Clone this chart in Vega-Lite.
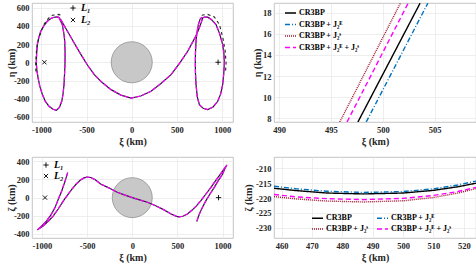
{
  "$schema": "https://vega.github.io/schema/vega-lite/v6.json",
  "autosize": {"type": "pad"},
  "padding": {"left": 5, "top": 2, "right": 0, "bottom": 0},
  "background": "white",
  "bounds": "flush",
  "columns": 2,
  "spacing": {"row": 35, "column": 41},
  "config": {
    "font": "Liberation Serif",
    "view": {"stroke": "#b5b5b5", "strokeWidth": 0.8},
    "axis": {
      "labelFont": "Liberation Serif", "labelFontWeight": "bold", "labelFontSize": 8.5, "labelColor": "#262626",
      "titleFont": "Liberation Serif", "titleFontWeight": "bold", "titleFontSize": 10, "titleColor": "#262626",
      "grid": true, "gridColor": "#e6e6e6", "gridWidth": 0.7, "domain": false, "ticks": false,
      "labelPadding": 3, "titlePadding": 3, "labelFlush": false, "labelOverlap": false, "labelBound": false,
      "labelExpr": "'' + datum.value"
    },
    "legend": {
      "labelFont": "Liberation Serif", "labelFontWeight": "bold", "labelFontSize": 8, "labelColor": "#000000",
      "padding": 0, "rowPadding": 1, "labelOffset": 3
    }
  },
  "resolve": {
    "scale": {"x": "independent", "y": "independent", "color": "independent", "strokeDash": "independent", "shape": "independent"},
    "legend": {"color": "independent", "strokeDash": "independent", "shape": "independent"}
  },
  "datasets": {
    "moon": [{"x": 0, "y": 0}],
    "lpts": [{"name": "L₁", "x": 955, "y": 0}, {"name": "L₂", "x": -966, "y": 0}],
    "tl": [
      {"o": 1, "x": -805, "y": 492}, {"o": 2, "x": -768, "y": 414}, {"o": 3, "x": -748, "y": 300},
      {"o": 4, "x": -741, "y": 230}, {"o": 5, "x": -737, "y": 100}, {"o": 6, "x": -738, "y": -8},
      {"o": 7, "x": -743, "y": -130}, {"o": 8, "x": -749, "y": -245}, {"o": 9, "x": -760, "y": -350},
      {"o": 10, "x": -774, "y": -428}, {"o": 11, "x": -800, "y": -495}, {"o": 12, "x": -834, "y": -527},
      {"o": 13, "x": -870, "y": -515}, {"o": 14, "x": -915, "y": -483}, {"o": 15, "x": -955, "y": -430},
      {"o": 16, "x": -988, "y": -354}, {"o": 17, "x": -1015, "y": -270}, {"o": 18, "x": -1036, "y": -172},
      {"o": 19, "x": -1050, "y": -80}, {"o": 20, "x": -1055, "y": -8}, {"o": 21, "x": -1052, "y": 90},
      {"o": 22, "x": -1044, "y": 194}, {"o": 23, "x": -1028, "y": 270}, {"o": 24, "x": -1006, "y": 340},
      {"o": 25, "x": -972, "y": 400}, {"o": 26, "x": -933, "y": 450}, {"o": 27, "x": -895, "y": 480},
      {"o": 28, "x": -859, "y": 494}, {"o": 29, "x": -830, "y": 498}, {"o": 30, "x": -808, "y": 493},
      {"o": 31, "x": -780, "y": 460}, {"o": 32, "x": -740, "y": 390}, {"o": 33, "x": -690, "y": 304},
      {"o": 34, "x": -630, "y": 200}, {"o": 35, "x": -561, "y": 84}, {"o": 36, "x": -490, "y": -30},
      {"o": 37, "x": -414, "y": -135}, {"o": 38, "x": -330, "y": -220}, {"o": 39, "x": -229, "y": -300},
      {"o": 40, "x": -120, "y": -360}, {"o": 41, "x": -8, "y": -392}, {"o": 42, "x": 100, "y": -370},
      {"o": 43, "x": 213, "y": -318}, {"o": 44, "x": 320, "y": -235}, {"o": 45, "x": 435, "y": -135},
      {"o": 46, "x": 530, "y": -10}, {"o": 47, "x": 619, "y": 121}, {"o": 48, "x": 700, "y": 270},
      {"o": 49, "x": 745, "y": 370}, {"o": 50, "x": 770, "y": 440}, {"o": 51, "x": 785, "y": 486},
      {"o": 52, "x": 803, "y": 496}, {"o": 53, "x": 840, "y": 495}, {"o": 54, "x": 880, "y": 470},
      {"o": 55, "x": 932, "y": 414}, {"o": 56, "x": 970, "y": 320}, {"o": 57, "x": 1006, "y": 194},
      {"o": 58, "x": 1020, "y": 90}, {"o": 59, "x": 1024, "y": -8}, {"o": 60, "x": 1018, "y": -120},
      {"o": 61, "x": 1006, "y": -245}, {"o": 62, "x": 983, "y": -350}, {"o": 63, "x": 951, "y": -428},
      {"o": 64, "x": 900, "y": -490}, {"o": 65, "x": 840, "y": -519}, {"o": 66, "x": 790, "y": -505},
      {"o": 67, "x": 748, "y": -464}, {"o": 68, "x": 725, "y": -380}, {"o": 69, "x": 711, "y": -245},
      {"o": 70, "x": 705, "y": -120}, {"o": 71, "x": 703, "y": -8}, {"o": 72, "x": 705, "y": 110},
      {"o": 73, "x": 711, "y": 230}, {"o": 74, "x": 722, "y": 330}, {"o": 75, "x": 737, "y": 414},
      {"o": 76, "x": 755, "y": 470}, {"o": 77, "x": 775, "y": 495}
    ],
    "tlDash": [
      {"seg": "a", "o": 1, "x": -1060, "y": -100}, {"seg": "a", "o": 2, "x": -1062, "y": -8},
      {"seg": "a", "o": 3, "x": -1052, "y": 150}, {"seg": "a", "o": 4, "x": -1028, "y": 267},
      {"seg": "a", "o": 5, "x": -972, "y": 414}, {"seg": "a", "o": 6, "x": -922, "y": 482},
      {"seg": "a", "o": 7, "x": -878, "y": 516}, {"seg": "a", "o": 8, "x": -804, "y": 525},
      {"seg": "a", "o": 9, "x": -768, "y": 504},
      {"seg": "b", "o": 1, "x": 774, "y": 516}, {"seg": "b", "o": 2, "x": 840, "y": 525},
      {"seg": "b", "o": 3, "x": 914, "y": 496}, {"seg": "b", "o": 4, "x": 969, "y": 416},
      {"seg": "b", "o": 5, "x": 1008, "y": 267}, {"seg": "b", "o": 6, "x": 1034, "y": 121},
      {"seg": "b", "o": 7, "x": 1043, "y": -8}, {"seg": "b", "o": 8, "x": 1037, "y": -117}
    ],
    "bl": [
      {"o": 1, "x": -715, "y": 275}, {"o": 2, "x": -745, "y": 180}, {"o": 3, "x": -781, "y": 74},
      {"o": 4, "x": -820, "y": -20}, {"o": 5, "x": -855, "y": -110}, {"o": 6, "x": -900, "y": -190},
      {"o": 7, "x": -948, "y": -256}, {"o": 8, "x": -1000, "y": -310}, {"o": 9, "x": -1051, "y": -355},
      {"o": 10, "x": -1020, "y": -335}, {"o": 11, "x": -985, "y": -311}, {"o": 12, "x": -930, "y": -260},
      {"o": 13, "x": -874, "y": -201}, {"o": 14, "x": -820, "y": -125}, {"o": 15, "x": -763, "y": -36},
      {"o": 16, "x": -715, "y": 30}, {"o": 17, "x": -670, "y": 92}, {"o": 18, "x": -620, "y": 150},
      {"o": 19, "x": -577, "y": 191}, {"o": 20, "x": -540, "y": 215}, {"o": 21, "x": -504, "y": 226},
      {"o": 22, "x": -460, "y": 222}, {"o": 23, "x": -410, "y": 198}, {"o": 24, "x": -351, "y": 151},
      {"o": 25, "x": -260, "y": 108}, {"o": 26, "x": -167, "y": 59}, {"o": 27, "x": -80, "y": 28},
      {"o": 28, "x": 0, "y": 0}, {"o": 29, "x": 80, "y": -25}, {"o": 30, "x": 167, "y": -51},
      {"o": 31, "x": 260, "y": -90}, {"o": 32, "x": 351, "y": -135}, {"o": 33, "x": 430, "y": -180},
      {"o": 34, "x": 490, "y": -207}, {"o": 35, "x": 517, "y": -212}, {"o": 36, "x": 560, "y": -205},
      {"o": 37, "x": 610, "y": -180}, {"o": 38, "x": 660, "y": -140}, {"o": 39, "x": 710, "y": -90},
      {"o": 40, "x": 758, "y": -36}, {"o": 41, "x": 815, "y": 40}, {"o": 42, "x": 869, "y": 110},
      {"o": 43, "x": 925, "y": 190}, {"o": 44, "x": 980, "y": 264}, {"o": 45, "x": 1015, "y": 315},
      {"o": 46, "x": 1047, "y": 360}, {"o": 47, "x": 1025, "y": 320}, {"o": 48, "x": 999, "y": 257},
      {"o": 49, "x": 950, "y": 185}, {"o": 50, "x": 906, "y": 110}, {"o": 51, "x": 860, "y": 40},
      {"o": 52, "x": 814, "y": -36}, {"o": 53, "x": 780, "y": -100}, {"o": 54, "x": 750, "y": -165},
      {"o": 55, "x": 730, "y": -215}, {"o": 56, "x": 714, "y": -264}
    ],
    "tr": [
      {"s": "CR3BP", "x": 497.6, "y": 7.65}, {"s": "CR3BP", "x": 503.6, "y": 18.9},
      {"s": "CR3BP + J₂ᴱ", "x": 498.4, "y": 7.65}, {"s": "CR3BP + J₂ᴱ", "x": 504.35, "y": 18.9},
      {"s": "CR3BP + J₂ˢ", "x": 495.85, "y": 7.65}, {"s": "CR3BP + J₂ˢ", "x": 501.7, "y": 18.9},
      {"s": "CR3BP + J₂ᴱ + J₂ˢ", "x": 496.55, "y": 7.65}, {"s": "CR3BP + J₂ᴱ + J₂ˢ", "x": 502.45, "y": 18.9}
    ],
    "br": [
      {"s": "CR3BP", "x": 457.5, "y": -216.7}, {"s": "CR3BP", "x": 465, "y": -217.5}, {"s": "CR3BP", "x": 475, "y": -218.3},
      {"s": "CR3BP", "x": 487, "y": -218.6}, {"s": "CR3BP", "x": 500, "y": -218.3}, {"s": "CR3BP", "x": 510, "y": -217.4},
      {"s": "CR3BP", "x": 518, "y": -216.2}, {"s": "CR3BP", "x": 524, "y": -215.0},
      {"s": "CR3BP + J₂ᴱ", "x": 457.5, "y": -216.0}, {"s": "CR3BP + J₂ᴱ", "x": 465, "y": -216.9}, {"s": "CR3BP + J₂ᴱ", "x": 475, "y": -217.7},
      {"s": "CR3BP + J₂ᴱ", "x": 487, "y": -218.1}, {"s": "CR3BP + J₂ᴱ", "x": 500, "y": -217.8}, {"s": "CR3BP + J₂ᴱ", "x": 510, "y": -216.9},
      {"s": "CR3BP + J₂ᴱ", "x": 518, "y": -215.6}, {"s": "CR3BP + J₂ᴱ", "x": 524, "y": -214.3},
      {"s": "CR3BP + J₂ˢ", "x": 457.5, "y": -219.5}, {"s": "CR3BP + J₂ˢ", "x": 465, "y": -220.3}, {"s": "CR3BP + J₂ˢ", "x": 475, "y": -221.0},
      {"s": "CR3BP + J₂ˢ", "x": 487, "y": -221.3}, {"s": "CR3BP + J₂ˢ", "x": 500, "y": -220.9}, {"s": "CR3BP + J₂ˢ", "x": 510, "y": -219.8},
      {"s": "CR3BP + J₂ˢ", "x": 518, "y": -218.3}, {"s": "CR3BP + J₂ˢ", "x": 524, "y": -216.8},
      {"s": "CR3BP + J₂ᴱ + J₂ˢ", "x": 457.5, "y": -218.8}, {"s": "CR3BP + J₂ᴱ + J₂ˢ", "x": 465, "y": -219.6}, {"s": "CR3BP + J₂ᴱ + J₂ˢ", "x": 475, "y": -220.2},
      {"s": "CR3BP + J₂ᴱ + J₂ˢ", "x": 487, "y": -220.5}, {"s": "CR3BP + J₂ᴱ + J₂ˢ", "x": 500, "y": -220.1}, {"s": "CR3BP + J₂ᴱ + J₂ˢ", "x": 510, "y": -219.1},
      {"s": "CR3BP + J₂ᴱ + J₂ˢ", "x": 518, "y": -217.8}, {"s": "CR3BP + J₂ᴱ + J₂ˢ", "x": 524, "y": -216.4}
    ]
  },
  "concat": [
    {
      "width": 201, "height": 119,
      "encoding": {
        "x": {"field": "x", "type": "quantitative", "scale": {"domain": [-1103, 1120], "nice": false, "zero": false},
              "axis": {"title": "ξ (km)", "values": [-1000, -500, 0, 500, 1000]}},
        "y": {"field": "y", "type": "quantitative", "scale": {"domain": [-655, 650], "nice": false, "zero": false},
              "axis": {"title": "η (km)", "values": [-600, -400, -200, 0, 200, 400, 600], "titleX": -26, "titleBaseline": "top"}}
      },
      "layer": [
        {"data": {"name": "moon"}, "mark": {"type": "point", "shape": "circle", "filled": true, "fill": "#c8c8c8", "stroke": "#777777", "strokeWidth": 0.6, "size": 1690, "opacity": 1}},
        {"data": {"name": "tl"}, "mark": {"type": "line", "color": "#1a1a2e", "strokeWidth": 1.2, "clip": true}, "encoding": {"order": {"field": "o", "type": "quantitative"}}},
        {"data": {"name": "tl"}, "mark": {"type": "line", "color": "#ff00ff", "strokeWidth": 1.2, "strokeDash": [4, 2], "clip": true}, "encoding": {"order": {"field": "o", "type": "quantitative"}}},
        {"data": {"name": "tlDash"}, "mark": {"type": "line", "color": "#222222", "strokeWidth": 1.1, "strokeDash": [3, 3], "clip": true}, "encoding": {"order": {"field": "o", "type": "quantitative"}, "detail": {"field": "seg", "type": "nominal"}}},
        {"data": {"name": "lpts"}, "mark": {"type": "point", "color": "#000000", "strokeWidth": 0.9, "size": 28, "opacity": 1},
         "encoding": {"shape": {"field": "name", "type": "nominal",
           "scale": {"domain": ["L₁", "L₂"], "range": ["M-1,0L1,0M0,-1L0,1", "M-0.8,-0.8L0.8,0.8M-0.8,0.8L0.8,-0.8"]},
           "legend": {"title": null, "orient": "none", "legendX": 36, "legendY": 0, "labelFontStyle": "italic", "labelFontSize": 10, "rowPadding": 2, "symbolStrokeColor": "#000000", "symbolStrokeWidth": 0.9, "symbolSize": 28, "labelOffset": 3}}}}
      ]
    },
    {
      "width": 202, "height": 119,
      "data": {"name": "tr"},
      "mark": {"type": "line", "strokeWidth": 1.4, "clip": true},
      "encoding": {
        "x": {"field": "x", "type": "quantitative", "scale": {"domain": [489.5, 509], "nice": false, "zero": false},
              "axis": {"title": "ξ (km)", "values": [490, 495, 500, 505]}},
        "y": {"field": "y", "type": "quantitative", "scale": {"domain": [7.65, 18.92], "nice": false, "zero": false},
              "axis": {"title": "η (km)", "values": [8, 10, 12, 14, 16, 18], "titleX": -22, "titleBaseline": "top"}},
        "color": {"field": "s", "type": "nominal",
          "scale": {"domain": ["CR3BP", "CR3BP + J₂ᴱ", "CR3BP + J₂ˢ", "CR3BP + J₂ᴱ + J₂ˢ"], "range": ["#000000", "#0072bd", "#a2142f", "#ff00ff"]},
          "legend": {"title": null, "orient": "none", "legendX": 10, "legendY": 3.5, "symbolType": "stroke", "symbolSize": 121, "symbolStrokeWidth": 1.4, "labelOffset": 2, "rowPadding": 0.5}},
        "strokeDash": {"field": "s", "type": "nominal",
          "scale": {"domain": ["CR3BP", "CR3BP + J₂ᴱ", "CR3BP + J₂ˢ", "CR3BP + J₂ᴱ + J₂ˢ"], "range": [[1, 0], [5, 2, 1, 2], [1, 1], [5, 3]]},
          "legend": {"title": null, "orient": "none", "legendX": 10, "legendY": 3.5, "symbolType": "stroke", "symbolSize": 121, "symbolStrokeWidth": 1.4, "labelOffset": 2, "rowPadding": 0.5}}
      }
    },
    {
      "width": 201, "height": 81,
      "encoding": {
        "x": {"field": "x", "type": "quantitative", "scale": {"domain": [-1110, 1115], "nice": false, "zero": false},
              "axis": {"title": "ξ (km)", "values": [-1000, -500, 0, 500, 1000]}},
        "y": {"field": "y", "type": "quantitative", "scale": {"domain": [-445, 448], "nice": false, "zero": false},
              "axis": {"title": "ζ (km)", "values": [-400, -200, 0, 200, 400], "titleX": -26, "titleBaseline": "top"}}
      },
      "layer": [
        {"data": {"name": "moon"}, "mark": {"type": "point", "shape": "circle", "filled": true, "fill": "#c8c8c8", "stroke": "#777777", "strokeWidth": 0.6, "size": 1600, "opacity": 1}},
        {"data": {"name": "bl"}, "mark": {"type": "line", "color": "#1a1a2e", "strokeWidth": 1.2, "clip": true}, "encoding": {"order": {"field": "o", "type": "quantitative"}}},
        {"data": {"name": "bl"}, "mark": {"type": "line", "color": "#ff00ff", "strokeWidth": 1.2, "strokeDash": [4, 2], "clip": true}, "encoding": {"order": {"field": "o", "type": "quantitative"}}},
        {"data": {"name": "lpts"}, "mark": {"type": "point", "color": "#000000", "strokeWidth": 0.9, "size": 28, "opacity": 1},
         "encoding": {"shape": {"field": "name", "type": "nominal",
           "scale": {"domain": ["L₁", "L₂"], "range": ["M-1,0L1,0M0,-1L0,1", "M-0.8,-0.8L0.8,0.8M-0.8,0.8L0.8,-0.8"]},
           "legend": {"title": null, "orient": "none", "legendX": 9, "legendY": 3, "labelFontStyle": "italic", "labelFontSize": 10, "rowPadding": 1, "symbolStrokeColor": "#000000", "symbolStrokeWidth": 0.9, "symbolSize": 28, "labelOffset": 3}}}}
      ]
    },
    {
      "width": 202, "height": 81,
      "data": {"name": "br"},
      "mark": {"type": "line", "strokeWidth": 1.4, "clip": true},
      "encoding": {
        "x": {"field": "x", "type": "quantitative", "scale": {"domain": [457.5, 524], "nice": false, "zero": false},
              "axis": {"title": "ξ (km)", "values": [460, 470, 480, 490, 500, 510, 520]}},
        "y": {"field": "y", "type": "quantitative", "scale": {"domain": [-233.4, -206.2], "nice": false, "zero": false},
              "axis": {"title": "ζ (km)", "values": [-230, -225, -220, -215, -210], "titleX": -31, "titleBaseline": "top"}},
        "color": {"field": "s", "type": "nominal",
          "scale": {"domain": ["CR3BP", "CR3BP + J₂ˢ", "CR3BP + J₂ᴱ", "CR3BP + J₂ᴱ + J₂ˢ"], "range": ["#000000", "#a2142f", "#0072bd", "#ff00ff"]},
          "legend": {"title": null, "orient": "none", "legendX": 37, "legendY": 54.5, "columns": 2, "columnPadding": 5, "symbolType": "stroke", "symbolSize": 121, "symbolStrokeWidth": 1.4, "labelOffset": 2, "rowPadding": 0}},
        "strokeDash": {"field": "s", "type": "nominal",
          "scale": {"domain": ["CR3BP", "CR3BP + J₂ˢ", "CR3BP + J₂ᴱ", "CR3BP + J₂ᴱ + J₂ˢ"], "range": [[1, 0], [1, 1], [5, 2, 1, 2], [5, 3]]},
          "legend": {"title": null, "orient": "none", "legendX": 37, "legendY": 54.5, "columns": 2, "columnPadding": 5, "symbolType": "stroke", "symbolSize": 121, "symbolStrokeWidth": 1.4, "labelOffset": 2, "rowPadding": 0}}
      }
    }
  ]
}
